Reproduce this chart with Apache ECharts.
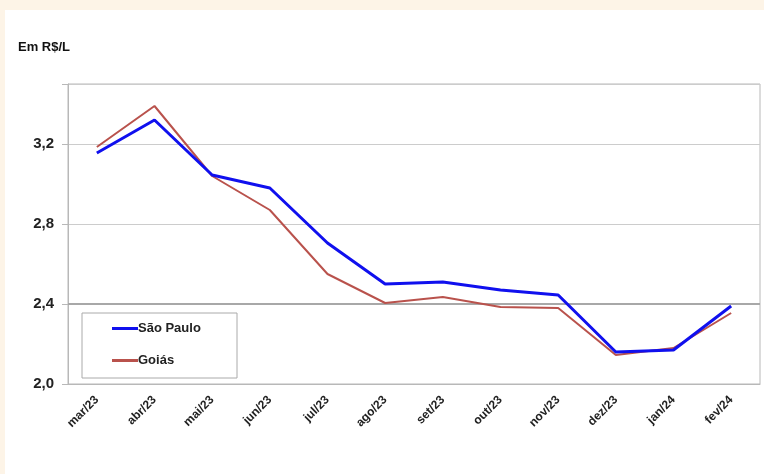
<!DOCTYPE html>
<html>
<head>
<meta charset="utf-8">
<script src="https://cdn.jsdelivr.net/npm/echarts@6/dist/echarts.min.js"></script>
<style>
html,body{margin:0;padding:0;background:#fdf4e7;}
#c{position:absolute;left:5px;top:10px;width:759px;height:464px;background:#fff;}
</style>
</head>
<body>
<div id="c"></div>
<script>
const categories = ['mar/23','abr/23','mai/23','jun/23','jul/23','ago/23','set/23','out/23','nov/23','dez/23','jan/24','fev/24'];
const saoPaulo = [3.155, 3.32, 3.045, 2.98, 2.705, 2.50, 2.51, 2.47, 2.445, 2.16, 2.17, 2.39];
const goias    = [3.185, 3.39, 3.04, 2.87, 2.55, 2.405, 2.435, 2.385, 2.38, 2.145, 2.18, 2.355];
const yTicks = [2.0, 2.4, 2.8, 3.2];

const chart = echarts.init(document.getElementById('c'), null, {renderer:'canvas'});
const font = 'Arial, "Liberation Sans", sans-serif';
chart.setOption({
  animation:false,
  backgroundColor:'#ffffff',
  title:{text:'Em R$/L', left:8, top:26, textStyle:{fontFamily:font, fontSize:13, fontWeight:'bold', color:'#111'}},
  grid:{left:63, right:4, top:74, bottom:90, show:true, borderColor:'#b8b8b8', borderWidth:1},
  graphic:[{type:'rect', shape:{x:77, y:303, width:155, height:65}, style:{fill:'#fff', stroke:'#aaaaaa', lineWidth:1}, z:5}],
  legend:{
    orient:'vertical', left:102, top:307, itemGap:19, itemWidth:26, itemHeight:3, z:10,
    textStyle:{fontFamily:font, fontSize:13, fontWeight:'bold', color:'#222', padding:[0,0,0,-5]},
    data:[{name:'São Paulo', icon:'rect'},{name:'Goiás', icon:'rect'}]
  },
  xAxis:{
    type:'category', data:categories, boundaryGap:true,
    axisLine:{show:true, lineStyle:{color:'#b8b8b8'}},
    axisTick:{show:false},
    axisLabel:{rotate:45, fontFamily:font, fontSize:12, fontWeight:'bold', color:'#222', margin:14, interval:0}
  },
  yAxis:{
    type:'value', min:2.0, max:3.5, interval:0.4,
    axisLine:{show:true, lineStyle:{color:'#b8b8b8'}},
    axisTick:{show:true, length:6, lineStyle:{color:'#b8b8b8'}},
    splitLine:{show:true, lineStyle:{color:'#cccccc', width:1}},
    axisLabel:{fontFamily:font, fontSize:15, fontWeight:'bold', color:'#222', margin:14,
      formatter:function(v){ return yTicks.some(t=>Math.abs(t-v)<1e-6) ? v.toFixed(1).replace('.',',') : ''; }}
  },
  series:[
    {name:'São Paulo', type:'line', data:saoPaulo, symbol:'none', z:4,
     lineStyle:{color:'#1010ee', width:3}, itemStyle:{color:'#1010ee'},
     markLine:{silent:true, symbol:'none', label:{show:false}, z:1,
       lineStyle:{color:'#a8a8a8', width:2, type:'solid'}, data:[{yAxis:2.4}]}},
    {name:'Goiás', type:'line', data:goias, symbol:'none', z:3,
     lineStyle:{color:'#b9524c', width:2}, itemStyle:{color:'#b9524c'}}
  ]
});
</script>
</body>
</html>
